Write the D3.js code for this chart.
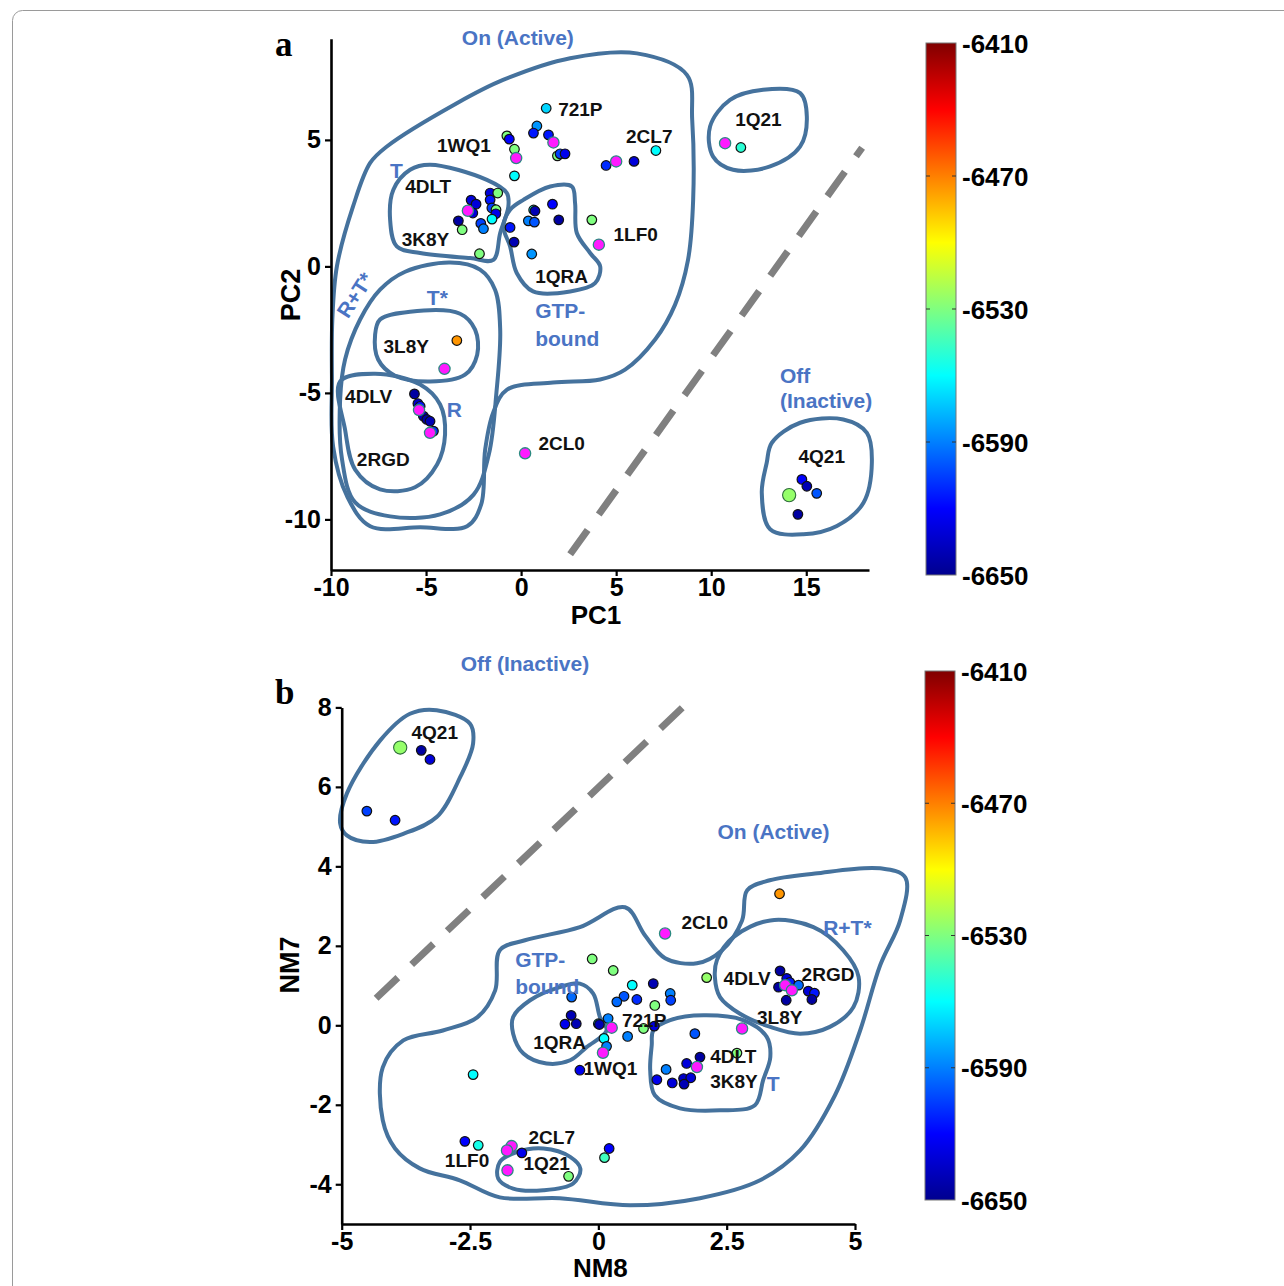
<!DOCTYPE html>
<html>
<head>
<meta charset="utf-8">
<script src="https://cdn.jsdelivr.net/npm/d3@7"></script>
<style>
  body { margin: 0; background: #fff; }
  svg { display: block; font-family: "Liberation Sans", Arial, sans-serif; }
</style>
</head>
<body>
<svg id="fig" width="1284" height="1286"></svg>
<script>
// ---------- data: panel a (PCA projection) ----------
// [PC1, PC2, energy]
const pcPoints = [
  [1.32, 6.25, -6570], [0.83, 5.55, -6585], [0.65, 5.27, -6615], [1.44, 5.20, -6615],
  [1.91, 4.37, -6530], [2.05, 4.45, -6605], [2.31, 4.45, -6625],
  [-0.75, 5.16, -6530], [-0.62, 5.03, -6620], [-0.35, 4.63, -6530], [-0.35, 3.58, -6560],
  [4.47, 3.99, -6610], [5.94, 4.15, -6630], [7.09, 4.58, -6560],
  [-2.63, 2.62, -6630], [-2.37, 2.46, -6630], [-1.63, 2.90, -6630], [-1.23, 2.90, -6530],
  [-1.63, 2.63, -6615], [-1.54, 2.31, -6605], [-1.32, 2.24, -6530], [-1.33, 2.08, -6625],
  [-1.53, 1.87, -6560], [-2.54, 2.11, -6630], [-3.30, 1.80, -6645], [-3.10, 1.45, -6530],
  [-2.12, 1.70, -6605], [-1.98, 1.49, -6590], [-2.19, 0.50, -6530],
  [0.66, 2.23, -6560], [0.73, 2.19, -6640], [1.65, 2.46, -6620], [1.98, 1.84, -6645],
  [0.38, 1.80, -6590], [0.70, 1.75, -6600], [-0.58, 1.54, -6615], [-0.37, 0.96, -6640],
  [0.56, 0.49, -6585], [3.72, 1.84, -6530],
  [11.56, 4.70, -6550],
  [14.77, -8.42, -6620], [15.03, -8.69, -6640], [15.55, -8.97, -6600], [14.56, -9.80, -6645],
  [-3.38, -2.93, -6475],
  [-5.61, -5.04, -6645], [-5.43, -5.42, -6635], [-5.31, -5.53, -6615], [-5.14, -5.92, -6640],
  [-4.96, -6.05, -6645], [-4.79, -6.12, -6640], [-4.61, -6.51, -6610]
];
// inactive reference state, drawn larger
const pcRefPoints = [[14.10, -9.04, -6525]];
// crystal structures [PC1, PC2]
const pcCrystals = [
  [1.70, 4.90], [-0.26, 4.28], [5.00, 4.15], [-2.80, 2.20], [4.09, 0.86],
  [10.73, 4.87], [-4.03, -4.05], [-5.37, -5.68], [-4.79, -6.58], [0.21, -7.39]
];
const pcXTicks = [-10, -5, 0, 5, 10, 15];
const pcYTicks = [-10, -5, 0, 5];

// ---------- data: panel b (normal modes) ----------
// [NM8, NM7, energy]
const nmPoints = [
  [-3.45, 6.92, -6645], [-3.28, 6.69, -6630], [-4.51, 5.39, -6605], [-3.96, 5.16, -6615],
  [3.53, 3.31, -6475],
  [-0.12, 1.67, -6530], [0.29, 1.38, -6530], [0.66, 1.01, -6560], [1.07, 1.05, -6640],
  [2.11, 1.20, -6525], [-0.52, 0.71, -6595], [0.50, 0.73, -6600], [0.36, 0.59, -6595],
  [0.75, 0.65, -6610], [1.40, 0.80, -6590], [1.41, 0.63, -6605], [1.10, 0.50, -6530],
  [-0.53, 0.25, -6640], [-0.65, 0.03, -6625], [-0.43, 0.04, -6640],
  [0.00, 0.04, -6560], [0.02, 0.02, -6640], [0.19, 0.17, -6590], [0.88, -0.08, -6530],
  [1.09, -0.02, -6630], [0.57, -0.28, -6590], [0.11, -0.33, -6560], [0.16, -0.53, -6590],
  [-0.36, -1.13, -6625],
  [1.88, -0.21, -6600], [1.98, -0.80, -6645], [2.70, -0.70, -6530], [1.72, -0.96, -6630],
  [1.32, -1.11, -6590], [1.14, -1.37, -6625], [1.44, -1.45, -6630], [1.66, -1.34, -6635],
  [1.80, -1.32, -6630], [1.67, -1.48, -6640],
  [3.54, 1.37, -6645], [3.67, 1.18, -6630], [3.73, 1.08, -6615], [3.90, 1.01, -6595],
  [3.51, 0.96, -6645], [3.66, 0.63, -6645], [4.09, 0.86, -6630], [4.21, 0.81, -6615],
  [4.16, 0.65, -6645],
  [-2.44, -1.24, -6560], [-2.60, -2.92, -6620], [-2.34, -3.02, -6555], [-1.49, -3.21, -6625],
  [-0.58, -3.80, -6530], [0.21, -3.10, -6620], [0.12, -3.33, -6545]
];
const nmRefPoints = [[-3.86, 6.99, -6525]];
const nmCrystals = [
  [1.30, 2.31], [0.26, -0.06], [0.09, -0.69], [2.80, -0.08], [1.92, -1.05],
  [3.64, 1.01], [3.77, 0.88], [-1.69, -3.04], [-1.78, -3.15], [-1.77, -3.65]
];
const nmXTicks = [-5, -2.5, 0, 2.5, 5];
const nmYTicks = [-4, -2, 0, 2, 4, 6, 8];

// energy colour bar
const energyExtent = [-6650, -6410];
const energyTicks = [-6410, -6470, -6530, -6590, -6650];

// ---------- annotation: structure labels [text, x, y] (data units) ----------
const pcLabels = [
  ["721P", 1.95, 5.93], ["1WQ1", -4.43, 4.54], ["2CL7", 5.52, 4.87], ["1Q21", 11.26, 5.53],
  ["4DLT", -6.10, 2.90], ["3K8Y", -6.28, 0.79], ["1LF0", 4.86, 0.99], ["1QRA", 0.74, -0.66],
  ["3L8Y", -7.24, -3.42], ["4DLV", -9.26, -5.39], ["2RGD", -8.64, -7.90], ["2CL0", 0.91, -7.24],
  ["4Q21", 14.59, -7.76]
];
const nmLabels = [
  ["4Q21", -3.64, 7.21], ["2CL0", 1.62, 2.43], ["4DLV", 2.44, 1.01], ["2RGD", 3.96, 1.11],
  ["3L8Y", 3.09, 0.04], ["721P", 0.46, -0.04], ["1QRA", -1.27, -0.59], ["1WQ1", -0.29, -1.26],
  ["4DLT", 2.18, -0.96], ["3K8Y", 2.18, -1.59], ["2CL7", -1.36, -2.98], ["1LF0", -2.99, -3.57],
  ["1Q21", -1.46, -3.65]
];
// conformational state labels [text, x, y, angle]
const pcStates = [
  ["On (Active)", -3.12, 8.75, 0], ["T", -6.89, 3.50, 0], ["T*", -4.96, -1.51, 0],
  ["R", -3.91, -5.97, 0], ["GTP-", 0.74, -2.03, 0], ["bound", 0.74, -3.13, 0],
  ["Off", 13.62, -4.59, 0], ["(Inactive)", 13.62, -5.58, 0], ["R+T*", -9.10, -2.10, -57]
];
const nmStates = [
  ["Off (Inactive)", -2.68, 8.91, 0], ["On (Active)", 2.32, 4.68, 0], ["R+T*", 4.38, 2.26, 0],
  ["GTP-", -1.62, 1.47, 0], ["bound", -1.62, 0.80, 0], ["T", 3.28, -1.65, 0]
];

// ---------- annotation: state boundaries (data units) ----------
const pcRegions = [
  // On (Active)
  [[-9.69,0],[-8.84,2.37],[-7.94,4.09],[-7.06,4.74],[-3.38,6.45],[-0.95,7.37],[2.58,8.23],
   [6.09,8.42],[8.72,7.57],[9.0,5.79],[9.05,2.63],[8.78,0.26],[8.1,-1.51],[7.05,-2.89],
   [5.47,-4.08],[4.16,-4.47],[1.68,-4.59],[-0.74,-4.87],[-1.47,-5.78],[-1.89,-7.24],
   [-2.1,-9.41],[-2.84,-10.27],[-5.31,-10.31],[-7.94,-10.27],[-9.15,-9.09],[-9.89,-7.12],
   [-9.95,-4.47],[-9.93,-2.1]],
  // R+T*
  [[-8.47,-2.1],[-7.42,-0.92],[-6.1,-0.21],[-3.73,0.15],[-2.16,-0.13],[-1.37,-0.92],
   [-1.1,-2.5],[-1.3,-5.0],[-1.7,-7.44],[-2.5,-9.02],[-4.26,-9.8],[-6.89,-9.88],
   [-8.73,-9.33],[-9.42,-7.63],[-9.52,-5.26],[-9.26,-3.68]],
  // T* (3L8Y)
  [[-7.42,-2.1],[-5.84,-1.79],[-3.21,-1.87],[-2.42,-2.5],[-2.31,-3.49],[-2.95,-4.28],
   [-4.79,-4.55],[-6.63,-4.32],[-7.52,-3.68],[-7.68,-2.7]],
  // R (4DLV / 2RGD)
  [[-9.52,-4.55],[-7.68,-4.24],[-5.31,-4.67],[-4.26,-5.46],[-4.0,-6.64],[-4.42,-7.83],
   [-5.58,-8.73],[-7.42,-8.81],[-8.73,-8.03],[-9.26,-6.45]],
  // T (4DLT / 3K8Y)
  [[-5.84,3.82],[-4.79,4.02],[-1.8,3.42],[-0.75,2.9],[-0.67,2.37],[-1.1,1.32],[-1.46,0.26],
   [-2.68,0.33],[-5.31,0.53],[-6.54,0.79],[-6.89,1.84],[-6.72,3.03]],
  // GTP-bound (1QRA)
  [[-0.58,2.24],[0.12,2.63],[1.53,3.16],[2.67,3.16],[2.84,2.5],[2.93,1.32],[3.63,0.53],
   [4.16,0],[3.89,-0.66],[2.58,-0.99],[0.63,-0.99],[-0.23,-0.26],[-0.58,0.79],[-0.93,1.58]],
  // 1Q21
  [[9.94,5.53],[10.99,6.58],[12.73,6.98],[14.68,6.85],[15.03,5.92],[14.68,4.74],
   [13.1,3.95],[11.15,3.82],[10.1,4.34]],
  // Off (4Q21)
  [[13.19,-6.97],[14.68,-6.18],[16.95,-6.05],[18.19,-6.58],[18.45,-7.76],[18.01,-9.34],
   [16.61,-10.26],[14.85,-10.59],[13.1,-10.39],[12.66,-8.95],[12.92,-7.76]]
];
const nmRegions = [
  // Off (4Q21)
  [[-5.03,5.08],[-4.9,5.83],[-4.25,7.17],[-3.67,7.84],[-3.15,7.93],[-2.5,7.59],[-2.44,7.09],
   [-2.69,6.25],[-3.15,5.24],[-3.8,4.82],[-4.45,4.61],[-4.9,4.78]],
  // On (Active)
  [[-1.92,1.89],[-1.43,2.14],[-0.36,2.47],[0.52,2.97],[0.91,2.26],[1.3,1.69],[1.92,1.56],
   [2.41,1.89],[2.8,2.64],[2.9,3.4],[3.34,3.65],[4.22,3.82],[5.49,3.95],[5.98,3.72],
   [5.88,2.64],[5.49,1.51],[5.1,-0.13],[4.61,-1.76],[3.93,-3.15],[3.15,-3.9],[1.98,-4.35],
   [0.62,-4.53],[-0.75,-4.35],[-1.92,-4.33],[-2.7,-3.9],[-3.48,-3.6],[-3.96,-3.1],
   [-4.2,-2.39],[-4.2,-1.06],[-3.8,-0.38],[-3.03,-0.13],[-2.36,0.2],[-2.01,0.88]],
  // R+T*
  [[2.31,1.64],[2.63,2.22],[3.35,2.64],[4.19,2.47],[4.77,1.89],[5.07,1.22],[4.97,0.46],
   [4.51,-0.04],[3.93,-0.21],[3.35,-0.04],[2.76,0.29],[2.37,0.71],[2.27,1.22]],
  // T
  [[1.07,-0.13],[1.4,0.13],[2.05,0.25],[2.82,0.13],[3.28,-0.29],[3.35,-0.8],[3.21,-1.38],
   [3.05,-2.01],[2.37,-2.14],[1.59,-2.09],[1.1,-1.76],[1.01,-1.13],[1.04,-0.5]],
  // GTP-bound (1QRA)
  [[-1.66,0.21],[-1.33,0.63],[-0.75,0.96],[-0.36,1.05],[-0.1,0.8],[0.03,0.21],[0.16,-0.13],
   [-0.23,-0.55],[-0.55,-0.88],[-1.01,-0.96],[-1.46,-0.71],[-1.66,-0.21]],
  // 1Q21
  [[-1.92,-3.44],[-1.59,-3.19],[-1.07,-3.1],[-0.55,-3.31],[-0.35,-3.61],[-0.49,-3.98],
   [-1.07,-4.15],[-1.66,-4.11],[-1.95,-3.86]]
];
// on/off dividing line [[x1,y1],[x2,y2]]
const pcDivider = [[2.58, -11.38], [17.94, 4.69]];
const nmDivider = [[-4.33, 0.68], [1.79, 8.18]];

// ---------- drawing ----------
const svg = d3.select("#fig");

// frame around the figure
svg.append("rect").attr("x", 12.5).attr("y", 10.5).attr("width", 1300).attr("height", 1300)
  .attr("rx", 10).attr("fill", "none").attr("stroke", "#9a9a9a").attr("stroke-width", 1);

// jet colour map over the energy range
const jetStops = [0, 0.125, 0.375, 0.625, 0.875, 1];
const jetColors = ["#00008f", "#0000ff", "#00ffff", "#ffff00", "#ff0000", "#800000"];
const energyColor = d3.scaleLinear()
  .domain(jetStops.map(t => energyExtent[0] + t * (energyExtent[1] - energyExtent[0])))
  .range(jetColors).clamp(true);

const defs = svg.append("defs");
const grad = defs.append("linearGradient").attr("id", "jet")
  .attr("x1", 0).attr("y1", 1).attr("x2", 0).attr("y2", 0);
jetStops.forEach((t, i) => grad.append("stop").attr("offset", t).attr("stop-color", jetColors[i]));

const regionColor = "#45729d";
const stateColor = "#4a74c4";

function drawPanel(cfg) {
  const x = d3.scaleLinear().domain(cfg.xDomain).range([cfg.left, cfg.right]);
  const y = d3.scaleLinear().domain(cfg.yDomain).range([cfg.bottom, cfg.top]);
  const g = svg.append("g");

  // state boundaries
  const outline = d3.line().x(d => x(d[0])).y(d => y(d[1]))
    .curve(d3.curveCatmullRomClosed.alpha(0.5));
  g.append("g").selectAll("path").data(cfg.regions).join("path")
    .attr("d", outline).attr("fill", "none").attr("stroke", regionColor)
    .attr("stroke-width", 4).attr("stroke-linejoin", "round");

  // dividing line
  g.append("line")
    .attr("x1", x(cfg.divider[0][0])).attr("y1", y(cfg.divider[0][1]))
    .attr("x2", x(cfg.divider[1][0])).attr("y2", y(cfg.divider[1][1]))
    .attr("stroke", "#808080").attr("stroke-width", 7).attr("stroke-dasharray", "30 19");

  // axes
  const fmt = d => String(d);
  const xAxis = g.append("g").attr("transform", `translate(0,${cfg.bottom})`)
    .call(d3.axisBottom(x).tickValues(cfg.xTicks).tickFormat(fmt).tickSize(6).tickSizeOuter(0).tickPadding(2));
  const yAxis = g.append("g").attr("transform", `translate(${cfg.left},0)`)
    .call(d3.axisLeft(y).tickValues(cfg.yTicks).tickFormat(fmt).tickSize(6).tickSizeOuter(0).tickPadding(4));
  [xAxis, yAxis].forEach(a => {
    a.select(".domain").attr("stroke", "#000").attr("stroke-width", 2.6);
    a.selectAll(".tick line").attr("stroke", "#000").attr("stroke-width", 2.2);
    a.selectAll(".tick text").attr("fill", "#000").attr("font-size", 25)
      .attr("font-weight", "bold").attr("font-family", "'Liberation Sans', Arial, sans-serif");
  });

  // scored conformations
  g.append("g").selectAll("circle").data(cfg.points).join("circle")
    .attr("cx", d => x(d[0])).attr("cy", d => y(d[1])).attr("r", 4.8)
    .attr("fill", d => energyColor(d[2])).attr("stroke", "#111").attr("stroke-width", 1.2);
  g.append("g").selectAll("circle").data(cfg.refPoints).join("circle")
    .attr("cx", d => x(d[0])).attr("cy", d => y(d[1])).attr("r", 6.6)
    .attr("fill", d => energyColor(d[2])).attr("stroke", "#2d6b3a").attr("stroke-width", 1.1);
  // crystal structures
  g.append("g").selectAll("circle").data(cfg.crystals).join("circle")
    .attr("cx", d => x(d[0])).attr("cy", d => y(d[1])).attr("r", 5.6)
    .attr("fill", "#ff1aff").attr("stroke", "#2a8a80").attr("stroke-width", 1.3);

  // structure labels
  g.append("g").selectAll("text").data(cfg.labels).join("text")
    .attr("x", d => x(d[1])).attr("y", d => y(d[2]))
    .attr("font-size", 19).attr("font-weight", "bold").attr("fill", "#111")
    .text(d => d[0]);

  // state labels
  g.append("g").selectAll("text").data(cfg.states).join("text")
    .attr("transform", d => `translate(${x(d[1])},${y(d[2])}) rotate(${d[3]})`)
    .attr("font-size", 21).attr("font-weight", "bold").attr("fill", stateColor)
    .text(d => d[0]);

  // axis titles
  g.append("text").attr("x", (cfg.left + cfg.right) / 2 + cfg.xTitleShift).attr("y", cfg.xTitleY)
    .attr("text-anchor", "middle").attr("font-size", 26).attr("font-weight", "bold")
    .text(cfg.xTitle);
  g.append("text")
    .attr("transform", `translate(${cfg.yTitleX},${cfg.yTitleCY}) rotate(-90)`)
    .attr("text-anchor", "middle").attr("font-size", 27).attr("font-weight", "bold")
    .text(cfg.yTitle);

  // panel letter
  g.append("text").attr("x", 275).attr("y", cfg.letterY)
    .attr("font-family", "'Liberation Serif', 'Times New Roman', serif")
    .attr("font-size", 35).attr("font-weight", "bold").text(cfg.letter);

  // colour bar
  const cb = d3.scaleLinear().domain(energyExtent).range([cfg.cbBottom, cfg.cbTop]);
  const cbg = g.append("g");
  cbg.append("rect").attr("x", cfg.cbX).attr("y", cfg.cbTop).attr("width", 30)
    .attr("height", cfg.cbBottom - cfg.cbTop).attr("fill", "url(#jet)")
    .attr("stroke", "#777").attr("stroke-width", 1);
  const inner = energyTicks.filter(t => t !== energyExtent[0] && t !== energyExtent[1]);
  cbg.selectAll("line.l").data(inner).join("line")
    .attr("x1", cfg.cbX).attr("x2", cfg.cbX + 4).attr("y1", d => cb(d)).attr("y2", d => cb(d))
    .attr("stroke", "#333").attr("stroke-width", 1);
  cbg.selectAll("line.r").data(inner).join("line")
    .attr("x1", cfg.cbX + 26).attr("x2", cfg.cbX + 30).attr("y1", d => cb(d)).attr("y2", d => cb(d))
    .attr("stroke", "#333").attr("stroke-width", 1);
  cbg.selectAll("text").data(energyTicks).join("text")
    .attr("x", cfg.cbX + 36).attr("y", d => cb(d) + 9.5)
    .attr("font-size", 26).attr("font-weight", "bold").text(d => String(d));
}

drawPanel({
  left: 331, right: 869, top: 38.7, bottom: 570,
  xDomain: [-10, 18.3], yDomain: [-12, 9],
  xTicks: pcXTicks, yTicks: pcYTicks,
  points: pcPoints, refPoints: pcRefPoints, crystals: pcCrystals,
  labels: pcLabels, states: pcStates, regions: pcRegions, divider: pcDivider,
  xTitle: "PC1", yTitle: "PC2", xTitleShift: -4, xTitleY: 624, yTitleX: 300, yTitleCY: 295,
  letter: "a", letterY: 56,
  cbX: 926, cbTop: 43, cbBottom: 575
});

drawPanel({
  left: 341.7, right: 855, top: 707.4, bottom: 1224,
  xDomain: [-5, 5], yDomain: [-5, 8],
  xTicks: nmXTicks, yTicks: nmYTicks,
  points: nmPoints, refPoints: nmRefPoints, crystals: nmCrystals,
  labels: nmLabels, states: nmStates, regions: nmRegions, divider: nmDivider,
  xTitle: "NM8", yTitle: "NM7", xTitleShift: 2, xTitleY: 1277, yTitleX: 299, yTitleCY: 965,
  letter: "b", letterY: 704,
  cbX: 925, cbTop: 671, cbBottom: 1200
});
</script>
</body>
</html>
